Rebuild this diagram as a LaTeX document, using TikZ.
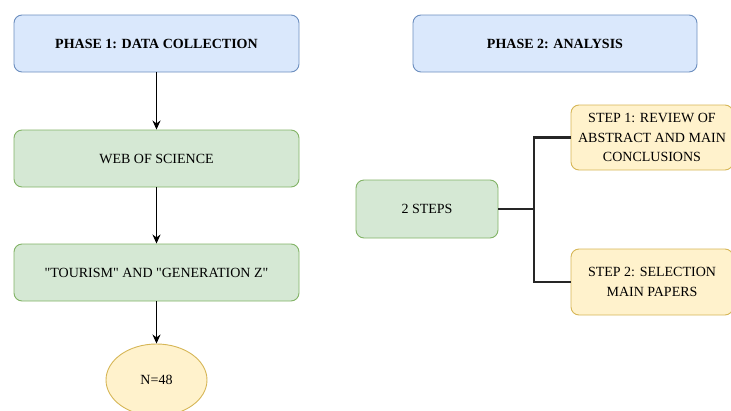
\documentclass[tikz,border=0pt]{standalone}
\usepackage{fontspec}
\setmainfont{Liberation Serif}
\usetikzlibrary{arrows.meta,shapes.geometric}
\definecolor{bfill}{HTML}{DAE8FC}\definecolor{bdraw}{HTML}{6C8EBF}
\definecolor{gfill}{HTML}{D5E8D4}\definecolor{gdraw}{HTML}{82B366}
\definecolor{yfill}{HTML}{FFF2CC}\definecolor{ydraw}{HTML}{D6B656}
\tikzset{
  txt/.style={font=\fontsize{14}{19.5}\selectfont},
  box/.style={rounded corners=8pt, line width=0.9pt, align=center, inner sep=0pt, txt},
  bluebox/.style={box, fill=bfill, draw=bdraw, font=\fontsize{14}{19.5}\selectfont\bfseries},
  greenbox/.style={box, fill=gfill, draw=gdraw},
  yellowbox/.style={box, fill=yfill, draw=ydraw},
  arr/.style={-{Stealth[length=9pt,width=8pt]}, line width=1.4pt, black},
  thick line/.style={line width=2.4pt, draw=black!85}
}
\begin{document}
\begin{tikzpicture}[x=1pt,y=-1pt]
\useasboundingbox (0,0) rectangle (731,410);
\node[bluebox, minimum width=285pt, minimum height=57pt] (p1) at (156.5,43.5) {PHASE 1: DATA COLLECTION};
\node[bluebox, minimum width=284pt, minimum height=57pt] (p2) at (555,43.5) {PHASE 2: ANALYSIS};
\node[greenbox, minimum width=285pt, minimum height=57pt] (wos) at (156.5,158.5) {WEB OF SCIENCE};
\node[greenbox, minimum width=285pt, minimum height=57pt] (tz) at (156.5,272.5) {\textquotedbl TOURISM\textquotedbl{} AND \textquotedbl GENERATION Z\textquotedbl};
\node[ellipse, fill=yfill, draw=ydraw, line width=0.9pt, minimum width=101pt, minimum height=72pt, inner sep=0pt, txt] (n) at (156.5,380) {N=48};
\node[greenbox, minimum width=142pt, minimum height=58pt] (st) at (427,209) {2 STEPS};
\node[yellowbox, minimum width=162pt, minimum height=65pt] (s1) at (652,137.5) {STEP 1: REVIEW OF\\ABSTRACT AND MAIN\\CONCLUSIONS};
\node[yellowbox, minimum width=162pt, minimum height=66pt] (s2) at (652,282) {STEP 2: SELECTION\\MAIN PAPERS};
\coordinate (j) at (534,209);
\draw[arr] (p1) -- (wos);
\draw[arr] (wos) -- (tz);
\draw[arr] (tz) -- (n);
\draw[thick line] (st.east) -- (j);
\draw[thick line] (s1.west) -| (j) |- (s2.west);
\end{tikzpicture}
\end{document}
